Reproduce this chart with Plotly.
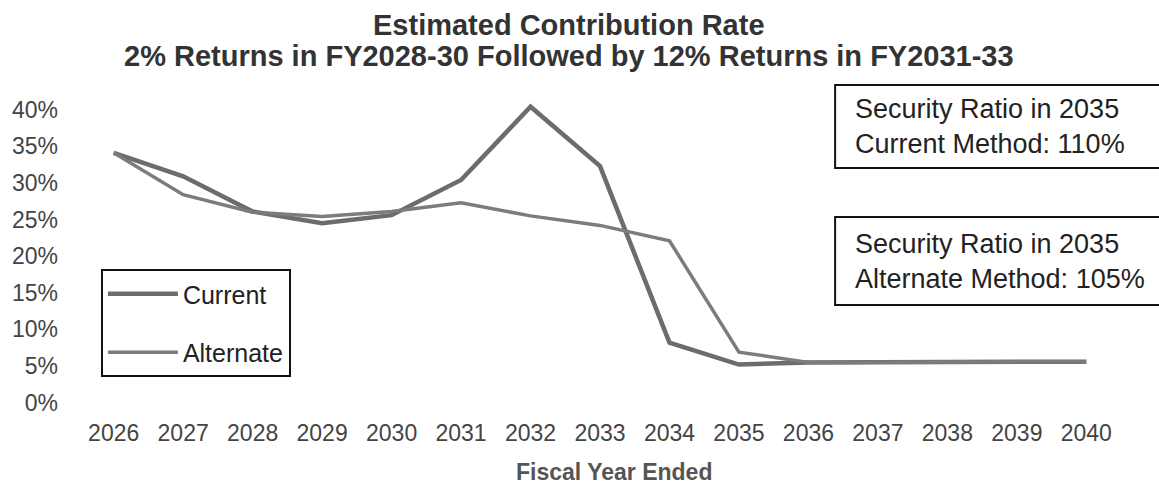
import plotly.graph_objects as go

# Fiscal years and estimated contribution rates (as fractions)
years = list(range(2026, 2041))
current = [0.341, 0.309, 0.261, 0.245, 0.256, 0.304, 0.404, 0.323,
           0.082, 0.052, 0.055, 0.055, 0.055, 0.056, 0.056]
alternate = [0.341, 0.284, 0.260, 0.254, 0.261, 0.273, 0.255, 0.242,
             0.221, 0.069, 0.055, 0.055, 0.055, 0.056, 0.056]
y_ticks = [0, 0.05, 0.10, 0.15, 0.20, 0.25, 0.30, 0.35, 0.40]

title_lines = ["Estimated Contribution Rate",
               "2% Returns in FY2028-30 Followed by 12% Returns in FY2031-33"]
x_title = "Fiscal Year Ended"
box_current = ["Security Ratio in 2035", "Current Method: 110%"]
box_alternate = ["Security Ratio in 2035", "Alternate Method: 105%"]

FONT = "Liberation Sans, Arial, sans-serif"
W, H = 1159, 488
L, R, T, B = 68, 31, 95, 78
PW, PH = W - L - R, H - T - B


def px_x(x):
    return (x - L) / PW


def px_y(y):
    return (H - B - y) / PH


fig = go.Figure()
fig.add_trace(go.Scatter(
    x=years, y=current, mode="lines", name="Current", legendgroup="c",
    line=dict(color="#6c6c6c", width=4.5),
))
fig.add_trace(go.Scatter(
    x=years, y=alternate, mode="lines", name="Alternate", legendgroup="a",
    line=dict(color="#7c7c7c", width=3.5),
))

fig.update_layout(
    width=W, height=H,
    margin=dict(l=L, r=R, t=T, b=B),
    paper_bgcolor="white", plot_bgcolor="white",
    font=dict(family=FONT, color="#444444", size=23),
    showlegend=True,
    legend=dict(
        x=px_x(97), y=px_y(269), xanchor="left", yanchor="top",
        bordercolor="#111111", borderwidth=2, bgcolor="white",
        font=dict(size=25, color="#222222"),
        tracegroupgap=23, itemwidth=70,
    ),
    xaxis=dict(
        range=[2025.4, 2040.6], tickmode="array", tickvals=years,
        ticktext=[str(y) for y in years], showgrid=False, zeroline=False,
        showline=False, ticks="", ticklabelstandoff=7,
    ),
    yaxis=dict(
        range=[-0.01, 0.42], tickmode="array", tickvals=y_ticks,
        tickformat=".0%", showgrid=False, zeroline=False, showline=False,
        ticks="", ticklabelstandoff=13,
    ),
)

# Two-line bold title
for text, yc in [(title_lines[0], 25), (title_lines[1], 56)]:
    fig.add_annotation(
        x=px_x(567), y=px_y(yc), xref="paper", yref="paper",
        xanchor="center", yanchor="middle", text="<b>" + text + "</b>",
        showarrow=False, font=dict(size=29, color="#333333", family=FONT),
    )

# X axis title
fig.add_annotation(
    x=px_x(612), y=px_y(472), xref="paper", yref="paper",
    xanchor="center", yanchor="middle", text="<b>" + x_title + "</b>",
    showarrow=False, font=dict(size=23, color="#555555", family=FONT),
)

# Security ratio callout boxes
for lines, y0, y1 in [(box_current, 85, 168), (box_alternate, 217, 305)]:
    fig.add_shape(
        type="rect", xref="paper", yref="paper",
        x0=px_x(834), x1=px_x(1165), y0=px_y(y1), y1=px_y(y0),
        line=dict(color="#111111", width=2), fillcolor="white", layer="above",
    )
    fig.add_annotation(
        x=px_x(852), y=px_y((y0 + y1) / 2), xref="paper", yref="paper",
        xanchor="left", yanchor="middle", text="<br>".join(lines),
        showarrow=False, align="left",
        font=dict(size=27, color="#222222", family=FONT),
    )

fig.write_html("out.html")
